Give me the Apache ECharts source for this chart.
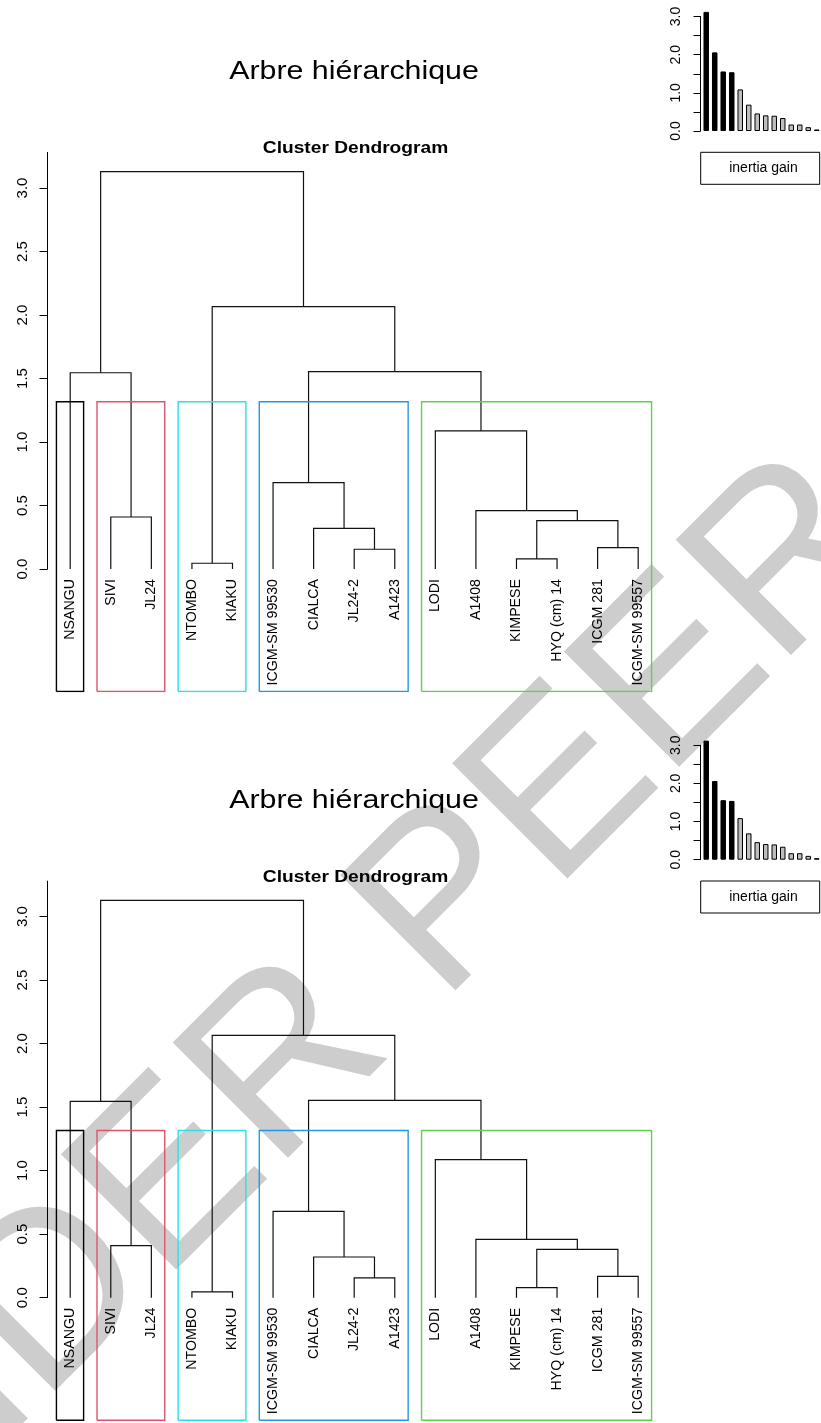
<!DOCTYPE html>
<html>
<head>
<meta charset="utf-8">
<title>Arbre hiérarchique</title>
<script src="https://cdn.jsdelivr.net/npm/echarts@6/dist/echarts.min.js"></script>
<style>
  html, body { margin: 0; padding: 0; background: #fff; }
  #chart { width: 821px; height: 1423px; }
</style>
</head>
<body>
<div id="chart"></div>
<script>
// feuilles, dans l'ordre du dendrogramme
var leaves = ["NSANGU", "SIVI", "JL24", "NTOMBO", "KIAKU", "ICGM-SM 99530", "CIALCA",
  "JL24-2", "A1423", "LODI", "A1408", "KIMPESE", "HYQ (cm) 14", "ICGM 281", "ICGM-SM 99557"];

// fusions (comme hclust$merge) : négatif = feuille n°, positif = fusion précédente
var mergeLeft = [-4, -12, -8, -14, -7, 2, -2, -11, -6, -10, -1, 9, 1, 11];
var mergeRight = [-5, -13, -9, -15, 3, 4, -3, 6, 5, 8, 7, 10, 12, 13];
var mergeHeight = [0.045, 0.079, 0.155, 0.168, 0.32, 0.38, 0.409, 0.459, 0.68, 1.087, 1.545, 1.553, 2.065, 3.128];

// 5 classes (rect.hclust)
var clusterFirst = [1, 2, 4, 6, 10];
var clusterLast = [1, 3, 5, 9, 15];
var clusterColors = ["#000000", "#DF536B", "#28E2E5", "#2297E6", "#61D04F"];

// gain d'inertie (petit barplot)
var inertiaGain = [3.12, 2.06, 1.56, 1.54, 1.09, 0.69, 0.46, 0.41, 0.40, 0.34, 0.17, 0.17, 0.10, 0.04];

var yTicks = [0, 0.5, 1, 1.5, 2, 2.5, 3];
var leafTicks = leaves.map(function (d, i) { return i + 1; });

var panelOffsets = [0, 728.7];

var X_MIN = 0.44, X_MAX = 15.56, Y_TOP = 3.28, Y_BOTTOM = -0.965;
var FONT = "'Liberation Sans', Arial, sans-serif";

// segments du dendrogramme
function treeSegments() {
  var nodes = [], segs = [];
  function node(k) { return k < 0 ? { x: -k, h: 0 } : nodes[k - 1]; }
  for (var i = 0; i < mergeHeight.length; i++) {
    var a = node(mergeLeft[i]), b = node(mergeRight[i]), h = mergeHeight[i];
    segs.push({ coords: [[a.x, a.h], [a.x, h], [b.x, h], [b.x, b.h]] });
    nodes.push({ x: (a.x + b.x) / 2, h: h });
  }
  return segs;
}

function clusterBoxes() {
  var sorted = mergeHeight.slice().sort(function (a, b) { return b - a; });
  var k = clusterFirst.length;
  var top = (sorted[k - 2] + sorted[k - 1]) / 2;
  return clusterFirst.map(function (f, i) {
    var l = f - 0.34, r = clusterLast[i] + 0.33;
    return {
      coords: [[l, Y_BOTTOM], [l, top], [r, top], [r, Y_BOTTOM], [l, Y_BOTTOM]],
      lineStyle: { color: clusterColors[i] }
    };
  });
}

var grid = [], xAxis = [], yAxis = [], series = [], legend = [], graphic = [];

panelOffsets.forEach(function (o, p) {
  var base = grid.length;
  // axe visible
  grid.push({ left: 47.5, top: 152.4 + o, width: 613.4, height: 416.6 });
  // zone de tracé (descend jusqu'au bas des rectangles)
  grid.push({ left: 47.5, top: 152.4 + o, width: 613.4, height: 539.1 });
  // barplot du gain d'inertie
  grid.push({ left: 700.5, top: 16.5 + o, width: 121.9, height: 114.5 });

  xAxis.push({
    gridIndex: base, type: "value", min: X_MIN, max: X_MAX,
    axisLine: { show: false }, axisTick: { show: false }, splitLine: { show: false },
    axisLabel: {
      customValues: leafTicks, rotate: 90, margin: 10,
      fontFamily: FONT, fontSize: 14.2, color: "#000",
      formatter: function (v) { return leaves[Math.round(v) - 1]; }
    }
  });
  yAxis.push({
    gridIndex: base, type: "value", min: 0, max: Y_TOP,
    axisLine: { show: true, lineStyle: { color: "#000", width: 1 } },
    axisTick: { show: true, customValues: yTicks, length: 8, lineStyle: { color: "#000" } },
    axisLabel: {
      customValues: yTicks, rotate: 90, margin: 17,
      fontFamily: FONT, fontSize: 15, color: "#000",
      formatter: function (v) { return v.toFixed(1); }
    },
    splitLine: { show: false }
  });

  xAxis.push({ gridIndex: base + 1, type: "value", min: X_MIN, max: X_MAX, show: false });
  yAxis.push({ gridIndex: base + 1, type: "value", min: Y_BOTTOM, max: Y_TOP, show: false });

  xAxis.push({ gridIndex: base + 2, type: "value", min: 0.326, max: 14.5, show: false });
  yAxis.push({
    gridIndex: base + 2, type: "value", min: 0, max: 3, interval: 0.5,
    axisLine: { show: true, lineStyle: { color: "#000", width: 1 } },
    axisTick: { show: true, length: 7, lineStyle: { color: "#000" } },
    axisLabel: {
      rotate: 90, margin: 17, fontFamily: FONT, fontSize: 14, color: "#000",
      formatter: function (v) { return v % 1 === 0 ? v.toFixed(1) : ""; }
    },
    splitLine: { show: false }
  });

  series.push({
    type: "lines", coordinateSystem: "cartesian2d", polyline: true,
    xAxisIndex: base + 1, yAxisIndex: base + 1, silent: true,
    lineStyle: { color: "#111", width: 1.2, opacity: 1 },
    data: treeSegments()
  });
  series.push({
    type: "lines", coordinateSystem: "cartesian2d", polyline: true,
    xAxisIndex: base + 1, yAxisIndex: base + 1, silent: true, z: 3,
    lineStyle: { width: 1.4, opacity: 1 },
    data: clusterBoxes()
  });
  series.push({
    name: "inertia gain", type: "bar", clip: false,
    xAxisIndex: base + 2, yAxisIndex: base + 2, barWidth: 5.5,
    itemStyle: { borderColor: "#000", borderWidth: 1 },
    data: inertiaGain.map(function (v, i) {
      return { value: [i + 1, v], itemStyle: { color: i < clusterFirst.length - 1 ? "#000" : "#bebebe" } };
    })
  });

  legend.push({
    data: ["inertia gain"], selectedMode: false, left: 700.7, top: 152.3 + o,
    padding: [9, 22, 9, 23.5], itemWidth: 0, itemHeight: 14, itemGap: 0,
    borderColor: "#000", borderWidth: 1, icon: "rect",
    itemStyle: { opacity: 0, borderWidth: 0 },
    textStyle: { fontFamily: FONT, fontSize: 14, color: "#000" }
  });

  graphic.push({
    type: "text", x: 354, y: 72.2 + o, scaleX: 1.19,
    style: { text: "Arbre hiérarchique", x: 0, y: 0, textAlign: "center", textVerticalAlign: "middle",
      font: "25.5px " + FONT, fill: "#000" }
  });
  graphic.push({
    type: "text", x: 355.5, y: 148.7 + o, scaleX: 1.178,
    style: { text: "Cluster Dendrogram", x: 0, y: 0, textAlign: "center", textVerticalAlign: "middle",
      font: "bold 16.3px " + FONT, fill: "#000" }
  });
});

// filigrane
graphic.push({
  type: "text", x: -163, y: 1684, rotation: 45 * Math.PI / 180, z: -10, silent: true,
  style: { text: "UNDER PEER REVIEW", x: 0, y: 0, textAlign: "left", textVerticalAlign: "bottom",
    font: "237px " + FONT, fill: "#cdcdcd" }
});

var chart = echarts.init(document.getElementById("chart"));
chart.setOption({
  backgroundColor: "#fff",
  animation: false,
  grid: grid,
  xAxis: xAxis,
  yAxis: yAxis,
  legend: legend,
  graphic: graphic,
  series: series
});
</script>
</body>
</html>
